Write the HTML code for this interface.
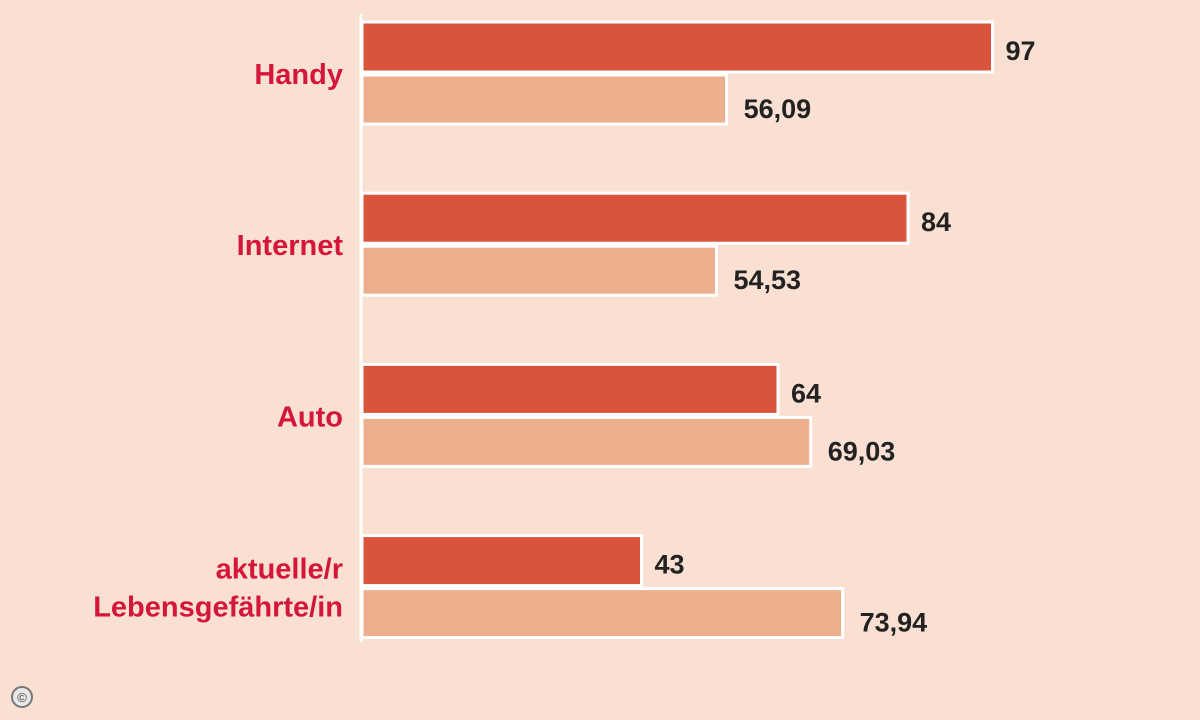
<!DOCTYPE html>
<html><head><meta charset="utf-8"><style>
html,body{margin:0;padding:0;background:#f9e0d2;}
svg{display:block;}
text{font-family:"Liberation Sans",sans-serif;font-weight:bold;}
</style></head><body>
<svg id="chart" width="1200" height="720" viewBox="0 0 1200 720">
<rect x="0" y="0" width="1200" height="720" fill="#f9e0d2"/>
<line x1="361" y1="14" x2="361" y2="642" stroke="#ffffff" stroke-width="3"/>
<g id="bars"></g>
<circle cx="22" cy="697" r="10" fill="#e8e8e8" stroke="#777" stroke-width="2"/>
<text x="22" y="702" font-size="13" text-anchor="middle" fill="#444" style="font-weight:normal">©</text>
</svg>
<script>
const categories = [["Handy"], ["Internet"], ["Auto"], ["aktuelle/r", "Lebensgefährte/in"]];
const darkValues = [97, 84, 64, 43];
const lightValues = [56.09, 54.53, 69.03, 73.94];
const darkLabels = ["97", "84", "64", "43"];
const lightLabels = ["56,09", "54,53", "69,03", "73,94"];

const NS = "http://www.w3.org/2000/svg";
const x0 = 362, scale = 6.5;
const xPos = v => x0 + v * scale;
const groupTop = i => 22 + i * 171.2;
const g = document.getElementById("bars");
function mk(tag, attrs) {
  const e = document.createElementNS(NS, tag);
  for (const k in attrs) e.setAttribute(k, attrs[k]);
  g.appendChild(e);
  return e;
}
categories.forEach((cat, i) => {
  const top = groupTop(i);
  const d = mk("rect", {x: x0, y: top, width: xPos(darkValues[i]) - x0, height: 50, fill: "#d9543b", stroke: "#ffffff", "stroke-width": 3});
  
  
  const l = mk("rect", {x: x0, y: top + 53, width: xPos(lightValues[i]) - x0, height: 49, fill: "#eeaf8f", stroke: "#ffffff", "stroke-width": 3});
  
  
  const dt = mk("text", {x: xPos(darkValues[i]) + 13, y: top + 38, "font-size": 27, fill: "#222"});
  dt.textContent = darkLabels[i];
  
  
  const lt = mk("text", {x: xPos(lightValues[i]) + 17, y: top + 96, "font-size": 27, fill: "#222"});
  lt.textContent = lightLabels[i];
  
  
  const cy = top + 51;
  const n = cat.length;
  cat.forEach((line, j) => {
    const t = mk("text", {x: 343, y: cy + 11 + (j - (n - 1) / 2) * 38, "font-size": 29, fill: "#d4163a", "text-anchor": "end"});
    t.textContent = line;
    
    
  });
});
</script>
</body></html>
